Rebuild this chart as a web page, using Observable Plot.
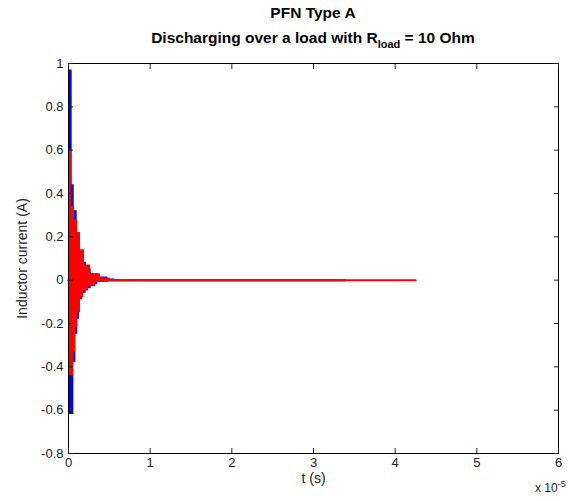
<!DOCTYPE html>
<html>
<head>
<meta charset="utf-8">
<script src="https://cdn.jsdelivr.net/npm/d3@7"></script>
<script src="https://cdn.jsdelivr.net/npm/@observablehq/plot@0.6"></script>
<style>
  html, body { margin: 0; padding: 0; background: #fff; }
  #wrap { position: relative; width: 568px; height: 501px; font-family: "Liberation Sans", Arial, sans-serif; }
  .title { position: absolute; left: 68px; width: 490px; text-align: center; font-weight: bold; font-size: 15.5px; color: #000; white-space: nowrap; }
  .title sub { font-size: 11px; vertical-align: -5px; line-height: 0; }
  #exp { position: absolute; left: 535px; top: 481px; font-size: 12px; color: #222; }
  #exp sup { font-size: 9px; vertical-align: 5px; line-height: 0; }
  svg { display: block; }
</style>
</head>
<body>
<div id="wrap">
  <div class="title" style="top:4px">PFN Type A</div>
  <div class="title" style="top:29px">Discharging over a load with R<sub>load</sub> = 10 Ohm</div>
  <div id="chart"></div>
  <div id="exp">x 10<sup>-5</sup></div>
</div>
<script>
// time in units of 1e-5 s
const xTicks = [0, 1, 2, 3, 4, 5, 6];
const yTicks = [-0.8, -0.6, -0.4, -0.2, 0, 0.2, 0.4, 0.6, 0.8, 1];

// Blue series envelope (inductor current, A)
const blueUpperT = [0, 0.045, 0.07, 0.106, 0.147, 0.184, 0.22, 0.278, 0.359, 0.481, 0.563];
const blueUpperI = [0.97, 0.44, 0.32, 0.21, 0.12, 0.083, 0.05, 0.03, 0.015, 0.005, 0];
const blueLowerT = [0, 0.065, 0.09, 0.114, 0.135, 0.175, 0.216, 0.278, 0.359, 0.481];
const blueLowerI = [-0.62, -0.38, -0.25, -0.18, -0.09, -0.06, -0.04, -0.02, -0.01, 0];
const blueTailT = [0, 3.39];
const blueTailI = [0, 0];

// Red series envelope
const redUpperT = [0, 0.035, 0.073, 0.11, 0.147, 0.196, 0.27, 0.39, 0.51];
const redUpperI = [0.6, 0.34, 0.28, 0.22, 0.14, 0.07, 0.03, 0.01, 0];
const redLowerT = [0, 0.061, 0.086, 0.11, 0.147, 0.184, 0.245, 0.33, 0.49];
const redLowerI = [-0.44, -0.33, -0.22, -0.15, -0.08, -0.05, -0.03, -0.01, 0];
const redTailT = [0, 4.25];
const redTailI = [0, 0];

const zip = (ts, is) => ts.map((t, k) => ({t, i: is[k]}));
const blueU = zip(blueUpperT, blueUpperI), blueL = zip(blueLowerT, blueLowerI);
const redU = zip(redUpperT, redUpperI), redL = zip(redLowerT, redLowerI);
const blueTail = zip(blueTailT, blueTailI), redTail = zip(redTailT, redTailI);

const font = "Liberation Sans, Arial, sans-serif";

const chart = Plot.plot({
  width: 568,
  height: 501,
  marginTop: 63,
  marginBottom: 48,
  marginLeft: 68,
  marginRight: 10,
  style: {fontFamily: font, fontSize: "13px", color: "#222", background: "#fff"},
  x: {domain: [0, 6], ticks: xTicks, label: null},
  y: {domain: [-0.8, 1], ticks: yTicks, label: null},
  marks: [
    // blue
    Plot.areaY(blueU, {x: "t", y1: 0, y2: "i", fill: "#0000ff", curve: "step-after"}),
    Plot.areaY(blueL, {x: "t", y1: "i", y2: 0, fill: "#0000ff", curve: "step-after"}),
    Plot.lineY(blueTail, {x: "t", y: "i", stroke: "#0000ff", strokeWidth: 2}),
    // red
    Plot.areaY(redU, {x: "t", y1: 0, y2: "i", fill: "#ff0000", curve: "step-after"}),
    Plot.areaY(redL, {x: "t", y1: "i", y2: 0, fill: "#ff0000", curve: "step-after"}),
    Plot.lineY(redTail, {x: "t", y: "i", stroke: "#ff0000", strokeWidth: 2}),
    // box and ticks (MATLAB style, ticks inside)
    Plot.frame({stroke: "#000", strokeWidth: 1}),
    Plot.axisX({anchor: "bottom", ticks: xTicks, tickSize: 0, tickPadding: 4, fill: "#222", fontSize: 13, tickFormat: d => String(d)}),
    Plot.axisY({anchor: "left", ticks: yTicks, tickSize: 0, tickPadding: 5, fill: "#222", fontSize: 13, tickFormat: d => String(d)}),
    Plot.axisX({anchor: "bottom", ticks: xTicks, tickSize: -5, tickFormat: () => ""}),
    Plot.axisX({anchor: "top", ticks: xTicks, tickSize: -5, tickFormat: () => ""}),
    Plot.axisY({anchor: "left", ticks: yTicks, tickSize: -5, tickFormat: () => ""}),
    Plot.axisY({anchor: "right", ticks: yTicks, tickSize: -5, tickFormat: () => ""}),
    Plot.text(["t (s)"], {frameAnchor: "bottom", dy: 29, fill: "#222", fontSize: 14}),
    Plot.text(["Inductor current (A)"], {frameAnchor: "left", textAnchor: "middle", dx: -46, rotate: -90, fill: "#222", fontSize: 14})
  ]
});
document.getElementById("chart").appendChild(chart);
</script>
</body>
</html>
